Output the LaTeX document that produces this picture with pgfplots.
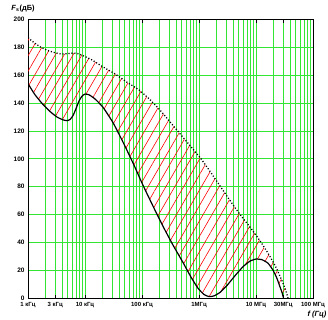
\documentclass[border=0pt]{standalone}
\usepackage{fontspec}
\setmainfont{Liberation Sans}
\usepackage{pgfplots}
\pgfplotsset{compat=1.18}
\usepgfplotslibrary{fillbetween}
\usetikzlibrary{patterns.meta,calc}
\definecolor{gridgreen}{RGB}{51,230,51}
\begin{document}
\begin{tikzpicture}
\begin{axis}[
  name=ax,
  scale only axis,
  width=285bp, height=278.4bp,
  xmode=log,
  xmin=1e3, xmax=1e8,
  ymin=0, ymax=200,
  ytick={0,20,...,200},
  xtick={1e3,3e3,1e4,1e5,1e6,1e7,3e7,1e8},
  xticklabels={1 кГц,3 кГц,10 кГц,100 кГц,1МГц,10 МГц,30МГц,100 МГц},
  minor xtick={2e3,4e3,5e3,6e3,7e3,8e3,9e3,
    2e4,3e4,4e4,5e4,6e4,7e4,8e4,9e4,
    2e5,3e5,4e5,5e5,6e5,7e5,8e5,9e5,
    2e6,3e6,4e6,5e6,6e6,7e6,8e6,9e6,
    2e7,4e7,5e7,6e7,7e7,8e7,9e7},
  grid=both,
  major grid style={gridgreen, line width=0.7pt},
  minor grid style={gridgreen, line width=0.7pt},
  tick align=inside,
  x tick style={black, line width=0.6pt},
  y tick style={draw=none},
  major tick length=3pt,
  minor tick length=0pt,
  axis line style={black, line width=1pt},
  x tick label style={font=\fontsize{6}{7}\selectfont\bfseries, yshift=-0.5pt},
  y tick label style={font=\fontsize{6.5}{7}\selectfont\bfseries},
  /pgf/number format/assume math mode=true,
  clip=true,
]
\addplot[name path=upper, black, line width=1.3pt, dash pattern=on 1.1pt off 1.9pt, smooth, tension=0.3] coordinates {
(1000,187)(1274,183.5)(1624,180.5)(2154,178)(2745,176.6)(3360,175.7)(3950,175.3)
(5031,175.6)(6158,176)(7539,175.5)(9605,173.8)(13270,171)(20690,166)(33600,161)
(54560,155)(88580,149.5)(138100,142.5)(206900,135)(309800,126.5)(464200,118)
(695200,109.5)(1084000,100)(1560000,91)(2336000,80.5)(3499000,70)(5241000,60)
(8171000,50)(12240000,40)(16910000,31)(22430000,22)(27450000,14)(32280000,7)(36420000,0)
};
\addplot[name path=lower, black, line width=1.2pt, smooth, tension=0.3] coordinates {
(1000,154)(1327,146)(1833,139)(2432,134)(3227,130)(4111,128)(4833,127.4)(5456,128.2)
(6158,131)(6952,136)(7847,141.5)(8858,145)(10000,146.5)(11750,146)(14980,143)
(20690,137)(30980,126)(46420,112)(69520,97)(104100,81)(156000,66)(233600,51.5)
(349900,38)(524100,25.5)(723800,15)(960500,7)(1224000,2.5)(1498000,1)(1833000,1.5)
(2336000,4)(3098000,9)(4281000,16)(5915000,22.5)(7847000,26.5)(10000000,28)
(12740000,27.5)(16240000,25)(19870000,20)(23360000,14)(26370000,8)(28580000,4)(30380000,0)
};
\addplot[draw=none, pattern={Lines[angle=60,distance=7.7bp,line width=0.6pt]}, pattern color=red]
  fill between[of=upper and lower];
\end{axis}
\node[anchor=center, font=\fontsize{7.5}{8}\selectfont\bfseries] at ($(ax.south west)+(-5bp,289.5bp)$) {\textit{F}\textsubscript{s}(дБ)};
\node[anchor=west, font=\fontsize{7.5}{8}\selectfont\bfseries\itshape] at ($(ax.south west)+(276bp,-17bp)$) {f (Гц)};
\pgfresetboundingbox
\path[use as bounding box] ($(ax.south west)+(-28bp,-22bp)$) rectangle ($(ax.north east)+(15bp,19.6bp)$);
\end{tikzpicture}
\end{document}
